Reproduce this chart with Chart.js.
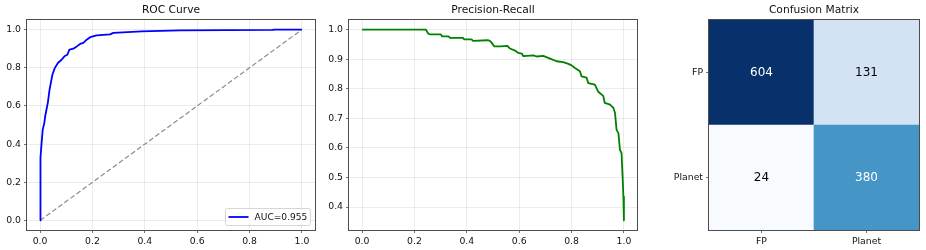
<!DOCTYPE html>
<html>
<head>
<meta charset="utf-8">
<script src="https://cdn.jsdelivr.net/npm/chart.js@4.4.1/dist/chart.umd.min.js"></script>
<style>
  html, body { margin: 0; padding: 0; background: #fff; }
  #wrap { position: relative; width: 926px; height: 250px; overflow: hidden; }
  canvas { position: absolute; top: 0; }
</style>
</head>
<body>
<div id="wrap">
  <canvas id="roc" width="320" height="250" style="left:0px"></canvas>
  <canvas id="pr" width="320" height="250" style="left:320px"></canvas>
  <canvas id="cm" width="286" height="250" style="left:640px"></canvas>
</div>
<script>
// ---------------- data ----------------

// ROC curve
const rocFpr = [0, 0, 0.003, 0.006, 0.010, 0.016, 0.020, 0.025, 0.030, 0.036, 0.041, 0.047, 0.056,
  0.068, 0.082, 0.093, 0.104, 0.112, 0.127, 0.140, 0.153, 0.165, 0.178, 0.191, 0.216, 0.267,
  0.280, 0.388, 0.534, 0.890, 0.890, 1.0];
const rocTpr = [0, 0.237, 0.33, 0.41, 0.475, 0.51, 0.55, 0.585, 0.62, 0.684, 0.72, 0.763, 0.798,
  0.825, 0.842, 0.86, 0.868, 0.895, 0.90, 0.912, 0.925, 0.93, 0.947, 0.96, 0.97, 0.975,
  0.983, 0.991, 0.996, 0.998, 1.0, 1.0];
const rocLabel = "AUC=0.955";
const chanceX = [0, 1];
const chanceY = [0, 1];

// Precision-Recall curve
const prRecall = [0, 0.243, 0.253, 0.26, 0.30, 0.306, 0.33, 0.336, 0.385, 0.39, 0.418, 0.424,
  0.48, 0.488, 0.495, 0.505, 0.53, 0.555, 0.565, 0.584, 0.597, 0.61, 0.616, 0.654, 0.667,
  0.692, 0.718, 0.743, 0.768, 0.788, 0.80, 0.813, 0.832, 0.838, 0.857, 0.864, 0.889, 0.902,
  0.91, 0.921, 0.927, 0.947, 0.96, 0.966, 0.972, 0.979, 0.985, 0.991, 0.995, 0.998, 1.0];
const prPrecision = [1.0, 1.0, 0.986, 0.984, 0.984, 0.977, 0.977, 0.972, 0.972, 0.967, 0.967, 0.962,
  0.964, 0.962, 0.955, 0.943, 0.943, 0.945, 0.936, 0.929, 0.921, 0.919, 0.91, 0.913, 0.909,
  0.911, 0.902, 0.893, 0.89, 0.884, 0.879, 0.87, 0.859, 0.842, 0.838, 0.819, 0.814, 0.79,
  0.784, 0.776, 0.752, 0.746, 0.735, 0.718, 0.661, 0.65, 0.593, 0.582, 0.503, 0.435, 0.355];

// confusion matrix (rows = actual, cols = predicted)
const cmClasses = ["FP", "Planet"];
const cmRowFP = [604, 131];
const cmRowPlanet = [24, 380];

// tick values
const unitTicks = [0, 0.2, 0.4, 0.6, 0.8, 1.0];
const prYTicks = [0.4, 0.5, 0.6, 0.7, 0.8, 0.9, 1.0];

// ---------------- style ----------------
const FONT = "'DejaVu Sans', sans-serif";
const FRAME = "#4d4d4d";
const GRID = "rgba(176,176,176,0.3)";
const TEXT = "#111111";
const tickFont = { family: FONT, size: 9.3, lineHeight: 1.2 };

Chart.defaults.animation = false;
Chart.defaults.events = [];

// matplotlib "Blues"
const bluesStops = ["#f7fbff", "#deebf7", "#c6dbef", "#9ecae1", "#6baed6", "#4292c6", "#2171b5", "#08519c", "#08306b"];
function blues(t) {
  t = Math.min(Math.max(t, 0), 1) * (bluesStops.length - 1);
  const i = Math.min(Math.floor(t), bluesStops.length - 2);
  const f = t - i;
  const a = bluesStops[i], b = bluesStops[i + 1];
  const c = [1, 3, 5].map((k) => {
    const va = parseInt(a.substr(k, 2), 16), vb = parseInt(b.substr(k, 2), 16);
    return Math.round(va + (vb - va) * f);
  });
  return `rgb(${c[0]},${c[1]},${c[2]})`;
}

function titleOpts(text) {
  return {
    display: true,
    text: text,
    fullSize: false,
    color: TEXT,
    font: { family: FONT, size: 10.7, weight: "normal", lineHeight: 1.2 },
    padding: { top: 4.2, bottom: 3 },
  };
}

// linear axis with fixed ticks and fixed size
function linAxis(min, max, ticks, size) {
  return {
    type: "linear",
    min: min,
    max: max,
    afterBuildTicks: (scale) => {
      scale.ticks = ticks.map((v) => ({ value: v }));
    },
    afterFit: (scale) => {
      if (scale.isHorizontal()) scale.height = size;
      else scale.width = size;
    },
    grid: { color: GRID, lineWidth: 0.8, tickColor: FRAME, tickLength: 3, tickWidth: 0.8 },
    border: { display: false },
    ticks: {
      autoSkip: false,
      maxRotation: 0,
      padding: 3,
      color: TEXT,
      font: tickFont,
      callback: (v) => Number(v).toFixed(1),
    },
  };
}

// frame around the plot area
const framePlugin = {
  id: "frame",
  afterDatasetsDraw(chart) {
    const { ctx, chartArea: { left, top, right, bottom } } = chart;
    ctx.save();
    ctx.strokeStyle = FRAME;
    ctx.lineWidth = 1;
    ctx.strokeRect(Math.round(left) - 0.5, Math.round(top) - 0.5, Math.round(right - left) + 1, Math.round(bottom - top) + 1);
    ctx.restore();
  },
};

// legend in the lower right of the ROC plot
const rocLegendPlugin = {
  id: "rocLegend",
  afterDraw(chart) {
    const { ctx, chartArea } = chart;
    const ds = chart.data.datasets[0];
    ctx.save();
    ctx.font = `9.1px ${FONT}`;
    const tw = ctx.measureText(ds.label).width;
    const h = 17, w = 3 + 20 + 6 + tw + 3;
    const x = Math.round(chartArea.right - 5.5 - w) + 0.5;
    const y = Math.round(chartArea.bottom - 5 - h) + 0.5;
    ctx.beginPath();
    if (ctx.roundRect) ctx.roundRect(x, y, w, h, 2);
    else ctx.rect(x, y, w, h);
    ctx.fillStyle = "rgba(255,255,255,0.8)";
    ctx.fill();
    ctx.strokeStyle = "#cccccc";
    ctx.lineWidth = 0.8;
    ctx.stroke();
    ctx.beginPath();
    ctx.strokeStyle = ds.borderColor;
    ctx.lineWidth = ds.borderWidth;
    ctx.moveTo(x + 3, y + h / 2);
    ctx.lineTo(x + 23, y + h / 2);
    ctx.stroke();
    ctx.fillStyle = TEXT;
    ctx.textAlign = "left";
    ctx.textBaseline = "middle";
    ctx.fillText(ds.label, x + 29, y + h / 2 + 0.5);
    ctx.restore();
  },
};

// ---------------- ROC ----------------
new Chart(document.getElementById("roc"), {
  type: "line",
  data: {
    datasets: [
      {
        label: rocLabel,
        data: rocFpr.map((x, i) => ({ x: x, y: rocTpr[i] })),
        borderColor: "#0000ff",
        borderWidth: 1.8,
        pointRadius: 0,
        tension: 0,
        borderJoinStyle: "round",
      },
      {
        label: "chance",
        data: chanceX.map((x, i) => ({ x: x, y: chanceY[i] })),
        borderColor: "#8c8c8c",
        borderWidth: 1.2,
        borderDash: [5, 2.5],
        pointRadius: 0,
      },
    ],
  },
  options: {
    responsive: false,
    layout: { padding: { left: 0, right: 5, top: 0, bottom: 0 } },
    plugins: {
      legend: { display: false },
      tooltip: { enabled: false },
      title: titleOpts("ROC Curve"),
    },
    scales: {
      x: linAxis(-0.05, 1.05, unitTicks, 20),
      y: linAxis(-0.05, 1.05, unitTicks, 27),
    },
  },
  plugins: [framePlugin, rocLegendPlugin],
});

// ---------------- Precision-Recall ----------------
new Chart(document.getElementById("pr"), {
  type: "line",
  data: {
    datasets: [
      {
        label: "PR",
        data: prRecall.map((x, i) => ({ x: x, y: prPrecision[i] })),
        borderColor: "#008000",
        borderWidth: 1.8,
        pointRadius: 0,
        tension: 0,
        borderJoinStyle: "round",
      },
    ],
  },
  options: {
    responsive: false,
    layout: { padding: { left: 0, right: 3, top: 0, bottom: 0 } },
    plugins: {
      legend: { display: false },
      tooltip: { enabled: false },
      title: titleOpts("Precision-Recall"),
    },
    scales: {
      x: linAxis(-0.05, 1.05, unitTicks, 20),
      y: linAxis(0.3224, 1.0323, prYTicks, 29),
    },
  },
  plugins: [framePlugin],
});

// ---------------- Confusion Matrix ----------------
const cmMax = Math.max(...cmRowFP, ...cmRowPlanet);
const cmMin = Math.min(...cmRowFP, ...cmRowPlanet);
const cellColor = (n) => blues((n - cmMin) / (cmMax - cmMin));

const cellTextPlugin = {
  id: "cellText",
  afterDatasetsDraw(chart) {
    const { ctx } = chart;
    ctx.save();
    ctx.font = `12px ${FONT}`;
    ctx.textAlign = "center";
    ctx.textBaseline = "middle";
    chart.data.datasets.forEach((ds, di) => {
      chart.getDatasetMeta(di).data.forEach((bar, i) => {
        const n = ds.counts[i];
        ctx.fillStyle = n > cmMax / 2 ? "#ffffff" : "#000000";
        ctx.fillText(String(n), bar.x, (bar.y + bar.base) / 2);
      });
    });
    ctx.restore();
  },
};

const cmAxisGrid = { drawOnChartArea: false, tickColor: FRAME, tickLength: 3, tickWidth: 0.8, offset: false };

new Chart(document.getElementById("cm"), {
  type: "bar",
  data: {
    labels: cmClasses,
    datasets: [
      {
        // bottom row: actual Planet (each cell is one unit tall)
        label: cmClasses[1],
        counts: cmRowPlanet,
        data: cmRowPlanet.map(() => 1),
        backgroundColor: cmRowPlanet.map(cellColor),
      },
      {
        // top row: actual FP
        label: cmClasses[0],
        counts: cmRowFP,
        data: cmRowFP.map(() => 1),
        backgroundColor: cmRowFP.map(cellColor),
      },
    ],
  },
  options: {
    responsive: false,
    layout: { padding: { left: 0, right: 7, top: 0, bottom: 0 } },
    datasets: { bar: { categoryPercentage: 1, barPercentage: 1, borderWidth: 0 } },
    plugins: {
      legend: { display: false },
      tooltip: { enabled: false },
      title: titleOpts("Confusion Matrix"),
    },
    scales: {
      x: {
        type: "category",
        stacked: true,
        offset: true,
        afterFit: (scale) => { scale.height = 20; },
        grid: cmAxisGrid,
        border: { display: false },
        ticks: { padding: 3, color: TEXT, font: tickFont, maxRotation: 0 },
      },
      y: {
        type: "linear",
        stacked: true,
        min: 0,
        max: 2,
        afterBuildTicks: (scale) => {
          scale.ticks = [{ value: 1.5 }, { value: 0.5 }];
        },
        afterFit: (scale) => { scale.width = 69; },
        grid: cmAxisGrid,
        border: { display: false },
        ticks: {
          padding: 3,
          color: TEXT,
          font: tickFont,
          callback: (v) => cmClasses[cmClasses.length - 1 - Math.floor(v)],
        },
      },
    },
  },
  plugins: [cellTextPlugin, framePlugin],
});
</script>
</body>
</html>
